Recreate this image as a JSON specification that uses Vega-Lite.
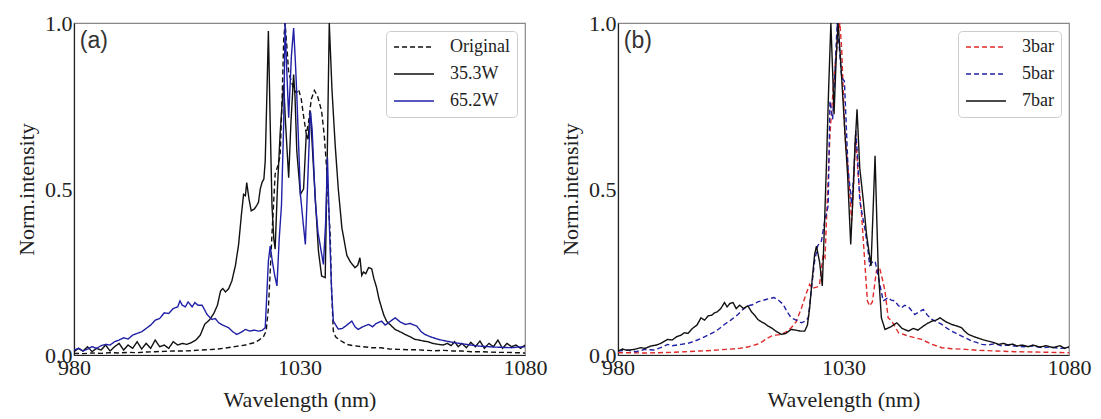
{
"$schema": "https://vega.github.io/schema/vega-lite/v6.json",
"padding": {"left": 14, "top": 11, "right": 5, "bottom": 5},
"spacing": 10,
"datasets": {
"a": [
{"s":"Original","x":980,"y":0.005},{"s":"Original","x":982,"y":0.004},{"s":"Original","x":984,"y":0.006},{"s":"Original","x":986,"y":0.005},{"s":"Original","x":988,"y":0.007},{"s":"Original","x":990,"y":0.006},{"s":"Original","x":992,"y":0.008},{"s":"Original","x":994,"y":0.007},{"s":"Original","x":996,"y":0.009},{"s":"Original","x":998,"y":0.01},{"s":"Original","x":1000,"y":0.011},{"s":"Original","x":1002,"y":0.012},{"s":"Original","x":1004,"y":0.012},{"s":"Original","x":1006,"y":0.013},{"s":"Original","x":1008,"y":0.015},{"s":"Original","x":1010,"y":0.016},{"s":"Original","x":1012,"y":0.018},{"s":"Original","x":1014,"y":0.022},{"s":"Original","x":1016,"y":0.026},{"s":"Original","x":1018,"y":0.03},{"s":"Original","x":1019,"y":0.034},{"s":"Original","x":1020,"y":0.037},{"s":"Original","x":1021,"y":0.045},{"s":"Original","x":1022,"y":0.055},{"s":"Original","x":1022.6,"y":0.072},{"s":"Original","x":1023.1,"y":0.14},{"s":"Original","x":1023.5,"y":0.25},{"s":"Original","x":1023.9,"y":0.364},{"s":"Original","x":1024.6,"y":0.545},{"s":"Original","x":1025.2,"y":0.57},{"s":"Original","x":1025.7,"y":0.6},{"s":"Original","x":1026.1,"y":0.75},{"s":"Original","x":1026.5,"y":0.95},{"s":"Original","x":1026.8,"y":1.0},{"s":"Original","x":1027.2,"y":0.93},{"s":"Original","x":1027.6,"y":0.85},{"s":"Original","x":1028.3,"y":0.82},{"s":"Original","x":1028.7,"y":0.8},{"s":"Original","x":1029.3,"y":0.79},{"s":"Original","x":1029.8,"y":0.8},{"s":"Original","x":1030.4,"y":0.77},{"s":"Original","x":1030.9,"y":0.72},{"s":"Original","x":1031.5,"y":0.665},{"s":"Original","x":1032,"y":0.7},{"s":"Original","x":1032.6,"y":0.77},{"s":"Original","x":1033.3,"y":0.797},{"s":"Original","x":1034,"y":0.78},{"s":"Original","x":1034.9,"y":0.735},{"s":"Original","x":1035.5,"y":0.66},{"s":"Original","x":1036,"y":0.564},{"s":"Original","x":1036.4,"y":0.46},{"s":"Original","x":1036.8,"y":0.364},{"s":"Original","x":1037.1,"y":0.2},{"s":"Original","x":1037.5,"y":0.072},{"s":"Original","x":1038,"y":0.055},{"s":"Original","x":1038.6,"y":0.048},{"s":"Original","x":1039.5,"y":0.04},{"s":"Original","x":1040.5,"y":0.032},{"s":"Original","x":1042,"y":0.028},{"s":"Original","x":1044,"y":0.025},{"s":"Original","x":1046,"y":0.022},{"s":"Original","x":1048,"y":0.022},{"s":"Original","x":1050,"y":0.018},{"s":"Original","x":1052,"y":0.017},{"s":"Original","x":1054,"y":0.016},{"s":"Original","x":1056,"y":0.016},{"s":"Original","x":1058,"y":0.014},{"s":"Original","x":1060,"y":0.013},{"s":"Original","x":1062,"y":0.014},{"s":"Original","x":1064,"y":0.012},{"s":"Original","x":1066,"y":0.012},{"s":"Original","x":1068,"y":0.01},{"s":"Original","x":1070,"y":0.01},{"s":"Original","x":1072,"y":0.009},{"s":"Original","x":1074,"y":0.008},{"s":"Original","x":1076,"y":0.008},{"s":"Original","x":1078,"y":0.007},{"s":"Original","x":1080,"y":0.006},
{"s":"35.3W","x":980,"y":0.01},{"s":"35.3W","x":981,"y":0.02},{"s":"35.3W","x":982,"y":0.012},{"s":"35.3W","x":983,"y":0.025},{"s":"35.3W","x":984,"y":0.01},{"s":"35.3W","x":985,"y":0.02},{"s":"35.3W","x":986,"y":0.015},{"s":"35.3W","x":987,"y":0.03},{"s":"35.3W","x":988,"y":0.012},{"s":"35.3W","x":989,"y":0.025},{"s":"35.3W","x":990,"y":0.035},{"s":"35.3W","x":991,"y":0.015},{"s":"35.3W","x":992,"y":0.03},{"s":"35.3W","x":993,"y":0.02},{"s":"35.3W","x":994,"y":0.04},{"s":"35.3W","x":995,"y":0.018},{"s":"35.3W","x":996,"y":0.035},{"s":"35.3W","x":997,"y":0.02},{"s":"35.3W","x":998,"y":0.045},{"s":"35.3W","x":999,"y":0.025},{"s":"35.3W","x":1000,"y":0.03},{"s":"35.3W","x":1001,"y":0.02},{"s":"35.3W","x":1002,"y":0.04},{"s":"35.3W","x":1003,"y":0.03},{"s":"35.3W","x":1004,"y":0.035},{"s":"35.3W","x":1005,"y":0.032},{"s":"35.3W","x":1006,"y":0.037},{"s":"35.3W","x":1007,"y":0.045},{"s":"35.3W","x":1008,"y":0.06},{"s":"35.3W","x":1009,"y":0.093},{"s":"35.3W","x":1010,"y":0.105},{"s":"35.3W","x":1011,"y":0.125},{"s":"35.3W","x":1011.8,"y":0.15},{"s":"35.3W","x":1012.5,"y":0.193},{"s":"35.3W","x":1013,"y":0.2},{"s":"35.3W","x":1013.6,"y":0.19},{"s":"35.3W","x":1014.3,"y":0.2},{"s":"35.3W","x":1015,"y":0.223},{"s":"35.3W","x":1015.8,"y":0.27},{"s":"35.3W","x":1016.5,"y":0.333},{"s":"35.3W","x":1017.1,"y":0.42},{"s":"35.3W","x":1017.6,"y":0.484},{"s":"35.3W","x":1018,"y":0.48},{"s":"35.3W","x":1018.3,"y":0.519},{"s":"35.3W","x":1018.8,"y":0.47},{"s":"35.3W","x":1019.3,"y":0.434},{"s":"35.3W","x":1020,"y":0.44},{"s":"35.3W","x":1020.5,"y":0.45},{"s":"35.3W","x":1020.9,"y":0.46},{"s":"35.3W","x":1021.3,"y":0.5},{"s":"35.3W","x":1021.7,"y":0.52},{"s":"35.3W","x":1022.1,"y":0.53},{"s":"35.3W","x":1022.4,"y":0.584},{"s":"35.3W","x":1022.8,"y":0.8},{"s":"35.3W","x":1023.1,"y":0.976},{"s":"35.3W","x":1023.5,"y":0.7},{"s":"35.3W","x":1023.9,"y":0.45},{"s":"35.3W","x":1024.3,"y":0.35},{"s":"35.3W","x":1024.6,"y":0.319},{"s":"35.3W","x":1025.1,"y":0.5},{"s":"35.3W","x":1025.7,"y":0.665},{"s":"35.3W","x":1026.1,"y":0.75},{"s":"35.3W","x":1026.5,"y":0.815},{"s":"35.3W","x":1026.9,"y":0.7},{"s":"35.3W","x":1027.6,"y":0.534},{"s":"35.3W","x":1028.1,"y":0.7},{"s":"35.3W","x":1028.7,"y":0.845},{"s":"35.3W","x":1029,"y":0.78},{"s":"35.3W","x":1029.4,"y":0.614},{"s":"35.3W","x":1030.2,"y":0.484},{"s":"35.3W","x":1030.9,"y":0.5},{"s":"35.3W","x":1031.5,"y":0.665},{"s":"35.3W","x":1031.9,"y":0.65},{"s":"35.3W","x":1032.4,"y":0.735},{"s":"35.3W","x":1033.1,"y":0.564},{"s":"35.3W","x":1033.6,"y":0.45},{"s":"35.3W","x":1034.2,"y":0.313},{"s":"35.3W","x":1034.9,"y":0.238},{"s":"35.3W","x":1035.7,"y":0.233},{"s":"35.3W","x":1036.1,"y":0.55},{"s":"35.3W","x":1036.6,"y":1.0},{"s":"35.3W","x":1037.2,"y":0.8},{"s":"35.3W","x":1037.9,"y":0.635},{"s":"35.3W","x":1038.6,"y":0.5},{"s":"35.3W","x":1039.4,"y":0.383},{"s":"35.3W","x":1040.5,"y":0.3},{"s":"35.3W","x":1041.3,"y":0.28},{"s":"35.3W","x":1042.3,"y":0.263},{"s":"35.3W","x":1042.9,"y":0.27},{"s":"35.3W","x":1043.4,"y":0.293},{"s":"35.3W","x":1043.8,"y":0.24},{"s":"35.3W","x":1044.2,"y":0.25},{"s":"35.3W","x":1044.7,"y":0.245},{"s":"35.3W","x":1045.3,"y":0.263},{"s":"35.3W","x":1046,"y":0.26},{"s":"35.3W","x":1046.5,"y":0.23},{"s":"35.3W","x":1047.1,"y":0.203},{"s":"35.3W","x":1047.6,"y":0.17},{"s":"35.3W","x":1048.2,"y":0.142},{"s":"35.3W","x":1048.7,"y":0.12},{"s":"35.3W","x":1049.3,"y":0.102},{"s":"35.3W","x":1050.2,"y":0.09},{"s":"35.3W","x":1051.2,"y":0.077},{"s":"35.3W","x":1052.3,"y":0.07},{"s":"35.3W","x":1053.4,"y":0.062},{"s":"35.3W","x":1054.5,"y":0.055},{"s":"35.3W","x":1055.6,"y":0.047},{"s":"35.3W","x":1056.5,"y":0.045},{"s":"35.3W","x":1057.5,"y":0.042},{"s":"35.3W","x":1058.5,"y":0.04},{"s":"35.3W","x":1059.5,"y":0.035},{"s":"35.3W","x":1060.8,"y":0.032},{"s":"35.3W","x":1061.8,"y":0.03},{"s":"35.3W","x":1062.8,"y":0.035},{"s":"35.3W","x":1063.6,"y":0.028},{"s":"35.3W","x":1064.4,"y":0.04},{"s":"35.3W","x":1065.2,"y":0.025},{"s":"35.3W","x":1066,"y":0.035},{"s":"35.3W","x":1067,"y":0.022},{"s":"35.3W","x":1068,"y":0.038},{"s":"35.3W","x":1069,"y":0.025},{"s":"35.3W","x":1070,"y":0.042},{"s":"35.3W","x":1071,"y":0.02},{"s":"35.3W","x":1072,"y":0.035},{"s":"35.3W","x":1073,"y":0.025},{"s":"35.3W","x":1074,"y":0.045},{"s":"35.3W","x":1075,"y":0.02},{"s":"35.3W","x":1076,"y":0.035},{"s":"35.3W","x":1077,"y":0.025},{"s":"35.3W","x":1078,"y":0.03},{"s":"35.3W","x":1079,"y":0.02},{"s":"35.3W","x":1080,"y":0.03},
{"s":"65.2W","x":980,"y":0.015},{"s":"65.2W","x":981,"y":0.02},{"s":"65.2W","x":982,"y":0.012},{"s":"65.2W","x":983,"y":0.018},{"s":"65.2W","x":984,"y":0.025},{"s":"65.2W","x":985,"y":0.02},{"s":"65.2W","x":986,"y":0.028},{"s":"65.2W","x":987,"y":0.032},{"s":"65.2W","x":988,"y":0.03},{"s":"65.2W","x":989,"y":0.04},{"s":"65.2W","x":990,"y":0.045},{"s":"65.2W","x":991,"y":0.052},{"s":"65.2W","x":992,"y":0.048},{"s":"65.2W","x":993,"y":0.06},{"s":"65.2W","x":994,"y":0.065},{"s":"65.2W","x":995,"y":0.07},{"s":"65.2W","x":996,"y":0.08},{"s":"65.2W","x":997,"y":0.09},{"s":"65.2W","x":998,"y":0.105},{"s":"65.2W","x":999,"y":0.11},{"s":"65.2W","x":1000,"y":0.127},{"s":"65.2W","x":1001,"y":0.125},{"s":"65.2W","x":1002,"y":0.14},{"s":"65.2W","x":1003,"y":0.145},{"s":"65.2W","x":1003.5,"y":0.163},{"s":"65.2W","x":1004,"y":0.15},{"s":"65.2W","x":1004.7,"y":0.145},{"s":"65.2W","x":1005.3,"y":0.16},{"s":"65.2W","x":1006.2,"y":0.145},{"s":"65.2W","x":1006.8,"y":0.158},{"s":"65.2W","x":1007.5,"y":0.15},{"s":"65.2W","x":1008.4,"y":0.15},{"s":"65.2W","x":1009,"y":0.135},{"s":"65.2W","x":1009.5,"y":0.122},{"s":"65.2W","x":1010.6,"y":0.107},{"s":"65.2W","x":1011.3,"y":0.11},{"s":"65.2W","x":1012.1,"y":0.097},{"s":"65.2W","x":1013,"y":0.09},{"s":"65.2W","x":1014.3,"y":0.082},{"s":"65.2W","x":1015.2,"y":0.07},{"s":"65.2W","x":1016.1,"y":0.062},{"s":"65.2W","x":1017,"y":0.068},{"s":"65.2W","x":1018,"y":0.077},{"s":"65.2W","x":1019,"y":0.072},{"s":"65.2W","x":1020,"y":0.075},{"s":"65.2W","x":1020.9,"y":0.072},{"s":"65.2W","x":1021.7,"y":0.074},{"s":"65.2W","x":1022.4,"y":0.082},{"s":"65.2W","x":1023.1,"y":0.283},{"s":"65.2W","x":1023.5,"y":0.328},{"s":"65.2W","x":1024,"y":0.28},{"s":"65.2W","x":1024.5,"y":0.24},{"s":"65.2W","x":1025,"y":0.208},{"s":"65.2W","x":1025.5,"y":0.35},{"s":"65.2W","x":1026,"y":0.45},{"s":"65.2W","x":1026.5,"y":0.7},{"s":"65.2W","x":1026.8,"y":1.0},{"s":"65.2W","x":1027.2,"y":0.85},{"s":"65.2W","x":1027.6,"y":0.715},{"s":"65.2W","x":1028.2,"y":0.9},{"s":"65.2W","x":1028.7,"y":0.985},{"s":"65.2W","x":1029.1,"y":0.88},{"s":"65.2W","x":1029.4,"y":0.785},{"s":"65.2W","x":1030.2,"y":0.484},{"s":"65.2W","x":1030.8,"y":0.4},{"s":"65.2W","x":1031.3,"y":0.333},{"s":"65.2W","x":1031.9,"y":0.55},{"s":"65.2W","x":1032.4,"y":0.735},{"s":"65.2W","x":1032.8,"y":0.68},{"s":"65.2W","x":1033.5,"y":0.464},{"s":"65.2W","x":1034.1,"y":0.37},{"s":"65.2W","x":1035.3,"y":0.273},{"s":"65.2W","x":1035.8,"y":0.4},{"s":"65.2W","x":1036.2,"y":0.594},{"s":"65.2W","x":1036.6,"y":0.4},{"s":"65.2W","x":1037.1,"y":0.2},{"s":"65.2W","x":1037.5,"y":0.102},{"s":"65.2W","x":1038.6,"y":0.078},{"s":"65.2W","x":1039.5,"y":0.08},{"s":"65.2W","x":1040.5,"y":0.09},{"s":"65.2W","x":1041.6,"y":0.102},{"s":"65.2W","x":1042.3,"y":0.085},{"s":"65.2W","x":1043,"y":0.077},{"s":"65.2W","x":1044,"y":0.085},{"s":"65.2W","x":1045.3,"y":0.092},{"s":"65.2W","x":1046.2,"y":0.085},{"s":"65.2W","x":1047,"y":0.095},{"s":"65.2W","x":1048.2,"y":0.102},{"s":"65.2W","x":1049,"y":0.09},{"s":"65.2W","x":1050,"y":0.1},{"s":"65.2W","x":1051.2,"y":0.112},{"s":"65.2W","x":1052.3,"y":0.1},{"s":"65.2W","x":1053.4,"y":0.092},{"s":"65.2W","x":1054.5,"y":0.095},{"s":"65.2W","x":1056,"y":0.087},{"s":"65.2W","x":1057,"y":0.07},{"s":"65.2W","x":1057.8,"y":0.062},{"s":"65.2W","x":1059,"y":0.055},{"s":"65.2W","x":1060.8,"y":0.047},{"s":"65.2W","x":1062.5,"y":0.042},{"s":"65.2W","x":1064.4,"y":0.037},{"s":"65.2W","x":1066,"y":0.034},{"s":"65.2W","x":1068,"y":0.03},{"s":"65.2W","x":1069.6,"y":0.027},{"s":"65.2W","x":1071,"y":0.026},{"s":"65.2W","x":1073,"y":0.024},{"s":"65.2W","x":1075,"y":0.023},{"s":"65.2W","x":1077,"y":0.022},{"s":"65.2W","x":1078.5,"y":0.024},{"s":"65.2W","x":1080,"y":0.025}
],
"b": [
{"s":"3bar","x":980,"y":0.007},{"s":"3bar","x":983,"y":0.007},{"s":"3bar","x":986,"y":0.006},{"s":"3bar","x":989,"y":0.007},{"s":"3bar","x":992,"y":0.008},{"s":"3bar","x":995,"y":0.01},{"s":"3bar","x":998,"y":0.012},{"s":"3bar","x":1001,"y":0.014},{"s":"3bar","x":1004,"y":0.017},{"s":"3bar","x":1007,"y":0.02},{"s":"3bar","x":1009,"y":0.025},{"s":"3bar","x":1011,"y":0.033},{"s":"3bar","x":1012,"y":0.04},{"s":"3bar","x":1013,"y":0.05},{"s":"3bar","x":1014,"y":0.057},{"s":"3bar","x":1015,"y":0.06},{"s":"3bar","x":1016.2,"y":0.062},{"s":"3bar","x":1017.3,"y":0.07},{"s":"3bar","x":1018.4,"y":0.082},{"s":"3bar","x":1019.5,"y":0.1},{"s":"3bar","x":1020.7,"y":0.142},{"s":"3bar","x":1021.6,"y":0.18},{"s":"3bar","x":1022.5,"y":0.213},{"s":"3bar","x":1023.1,"y":0.2},{"s":"3bar","x":1023.6,"y":0.203},{"s":"3bar","x":1024.2,"y":0.205},{"s":"3bar","x":1024.7,"y":0.213},{"s":"3bar","x":1025.1,"y":0.26},{"s":"3bar","x":1025.5,"y":0.303},{"s":"3bar","x":1025.9,"y":0.293},{"s":"3bar","x":1026.5,"y":0.5},{"s":"3bar","x":1027,"y":0.665},{"s":"3bar","x":1027.6,"y":0.78},{"s":"3bar","x":1028.1,"y":0.865},{"s":"3bar","x":1028.7,"y":0.95},{"s":"3bar","x":1029.2,"y":1.0},{"s":"3bar","x":1029.6,"y":0.92},{"s":"3bar","x":1030.3,"y":0.665},{"s":"3bar","x":1031,"y":0.564},{"s":"3bar","x":1031.8,"y":0.404},{"s":"3bar","x":1032.2,"y":0.5},{"s":"3bar","x":1032.7,"y":0.665},{"s":"3bar","x":1033.2,"y":0.55},{"s":"3bar","x":1034,"y":0.424},{"s":"3bar","x":1034.7,"y":0.283},{"s":"3bar","x":1035.3,"y":0.163},{"s":"3bar","x":1035.8,"y":0.148},{"s":"3bar","x":1036.4,"y":0.16},{"s":"3bar","x":1037.3,"y":0.253},{"s":"3bar","x":1038,"y":0.263},{"s":"3bar","x":1038.6,"y":0.23},{"s":"3bar","x":1039.2,"y":0.193},{"s":"3bar","x":1039.9,"y":0.112},{"s":"3bar","x":1040.7,"y":0.102},{"s":"3bar","x":1042.2,"y":0.067},{"s":"3bar","x":1044.4,"y":0.057},{"s":"3bar","x":1047.3,"y":0.047},{"s":"3bar","x":1049.6,"y":0.032},{"s":"3bar","x":1051.8,"y":0.022},{"s":"3bar","x":1054,"y":0.019},{"s":"3bar","x":1057,"y":0.017},{"s":"3bar","x":1060,"y":0.014},{"s":"3bar","x":1064,"y":0.012},{"s":"3bar","x":1068,"y":0.01},{"s":"3bar","x":1072,"y":0.009},{"s":"3bar","x":1076,"y":0.008},{"s":"3bar","x":1080,"y":0.007},
{"s":"5bar","x":980,"y":0.012},{"s":"5bar","x":982,"y":0.015},{"s":"5bar","x":984,"y":0.01},{"s":"5bar","x":986,"y":0.017},{"s":"5bar","x":988,"y":0.015},{"s":"5bar","x":990,"y":0.025},{"s":"5bar","x":991,"y":0.032},{"s":"5bar","x":992,"y":0.028},{"s":"5bar","x":994,"y":0.032},{"s":"5bar","x":995.5,"y":0.035},{"s":"5bar","x":997,"y":0.042},{"s":"5bar","x":998.5,"y":0.05},{"s":"5bar","x":1000,"y":0.06},{"s":"5bar","x":1001.5,"y":0.07},{"s":"5bar","x":1002.5,"y":0.08},{"s":"5bar","x":1003.6,"y":0.092},{"s":"5bar","x":1005,"y":0.105},{"s":"5bar","x":1006.6,"y":0.122},{"s":"5bar","x":1007.5,"y":0.135},{"s":"5bar","x":1008.8,"y":0.148},{"s":"5bar","x":1010,"y":0.152},{"s":"5bar","x":1011,"y":0.16},{"s":"5bar","x":1011.8,"y":0.163},{"s":"5bar","x":1013,"y":0.168},{"s":"5bar","x":1014.6,"y":0.173},{"s":"5bar","x":1015.6,"y":0.165},{"s":"5bar","x":1016.6,"y":0.153},{"s":"5bar","x":1017.5,"y":0.13},{"s":"5bar","x":1018.4,"y":0.112},{"s":"5bar","x":1019.5,"y":0.105},{"s":"5bar","x":1020.7,"y":0.097},{"s":"5bar","x":1021.5,"y":0.102},{"s":"5bar","x":1022.2,"y":0.112},{"s":"5bar","x":1022.9,"y":0.2},{"s":"5bar","x":1023.6,"y":0.283},{"s":"5bar","x":1024.3,"y":0.33},{"s":"5bar","x":1025.1,"y":0.343},{"s":"5bar","x":1025.8,"y":0.4},{"s":"5bar","x":1026.6,"y":0.45},{"s":"5bar","x":1027,"y":0.765},{"s":"5bar","x":1027.6,"y":0.71},{"s":"5bar","x":1028.1,"y":0.85},{"s":"5bar","x":1028.6,"y":1.0},{"s":"5bar","x":1029.1,"y":0.92},{"s":"5bar","x":1029.6,"y":0.835},{"s":"5bar","x":1030.2,"y":0.825},{"s":"5bar","x":1031,"y":0.564},{"s":"5bar","x":1031.8,"y":0.454},{"s":"5bar","x":1032.3,"y":0.55},{"s":"5bar","x":1032.7,"y":0.675},{"s":"5bar","x":1033.1,"y":0.6},{"s":"5bar","x":1033.6,"y":0.464},{"s":"5bar","x":1034.7,"y":0.383},{"s":"5bar","x":1035.3,"y":0.33},{"s":"5bar","x":1035.8,"y":0.27},{"s":"5bar","x":1036.4,"y":0.28},{"s":"5bar","x":1037,"y":0.283},{"s":"5bar","x":1037.8,"y":0.23},{"s":"5bar","x":1038.8,"y":0.163},{"s":"5bar","x":1039.9,"y":0.173},{"s":"5bar","x":1040.6,"y":0.165},{"s":"5bar","x":1041.4,"y":0.163},{"s":"5bar","x":1042.1,"y":0.15},{"s":"5bar","x":1042.8,"y":0.142},{"s":"5bar","x":1043.6,"y":0.15},{"s":"5bar","x":1044.4,"y":0.145},{"s":"5bar","x":1045.8,"y":0.122},{"s":"5bar","x":1046.7,"y":0.13},{"s":"5bar","x":1047.7,"y":0.137},{"s":"5bar","x":1048.6,"y":0.12},{"s":"5bar","x":1049.6,"y":0.107},{"s":"5bar","x":1050.7,"y":0.1},{"s":"5bar","x":1051.8,"y":0.092},{"s":"5bar","x":1053,"y":0.08},{"s":"5bar","x":1054,"y":0.072},{"s":"5bar","x":1055,"y":0.065},{"s":"5bar","x":1056.2,"y":0.057},{"s":"5bar","x":1057.3,"y":0.05},{"s":"5bar","x":1058.4,"y":0.042},{"s":"5bar","x":1059.5,"y":0.038},{"s":"5bar","x":1060.7,"y":0.032},{"s":"5bar","x":1062,"y":0.03},{"s":"5bar","x":1063.5,"y":0.034},{"s":"5bar","x":1065,"y":0.028},{"s":"5bar","x":1066.5,"y":0.03},{"s":"5bar","x":1068,"y":0.027},{"s":"5bar","x":1070,"y":0.025},{"s":"5bar","x":1072,"y":0.027},{"s":"5bar","x":1074,"y":0.022},{"s":"5bar","x":1076,"y":0.024},{"s":"5bar","x":1078,"y":0.02},{"s":"5bar","x":1080,"y":0.022},
{"s":"7bar","x":980,"y":0.012},{"s":"7bar","x":981,"y":0.018},{"s":"7bar","x":982,"y":0.014},{"s":"7bar","x":983.6,"y":0.017},{"s":"7bar","x":985,"y":0.022},{"s":"7bar","x":986,"y":0.02},{"s":"7bar","x":987.3,"y":0.027},{"s":"7bar","x":988.5,"y":0.03},{"s":"7bar","x":989.5,"y":0.035},{"s":"7bar","x":991,"y":0.047},{"s":"7bar","x":992,"y":0.045},{"s":"7bar","x":993,"y":0.055},{"s":"7bar","x":994,"y":0.06},{"s":"7bar","x":994.7,"y":0.067},{"s":"7bar","x":995.5,"y":0.065},{"s":"7bar","x":996.5,"y":0.08},{"s":"7bar","x":997.5,"y":0.09},{"s":"7bar","x":998.4,"y":0.112},{"s":"7bar","x":999.2,"y":0.105},{"s":"7bar","x":1000,"y":0.118},{"s":"7bar","x":1000.8,"y":0.12},{"s":"7bar","x":1001.4,"y":0.127},{"s":"7bar","x":1002,"y":0.13},{"s":"7bar","x":1002.8,"y":0.14},{"s":"7bar","x":1003.6,"y":0.158},{"s":"7bar","x":1004.2,"y":0.145},{"s":"7bar","x":1004.8,"y":0.155},{"s":"7bar","x":1005.5,"y":0.158},{"s":"7bar","x":1006.2,"y":0.14},{"s":"7bar","x":1007,"y":0.15},{"s":"7bar","x":1007.8,"y":0.14},{"s":"7bar","x":1008.8,"y":0.148},{"s":"7bar","x":1009.6,"y":0.13},{"s":"7bar","x":1010.3,"y":0.12},{"s":"7bar","x":1011,"y":0.107},{"s":"7bar","x":1011.8,"y":0.1},{"s":"7bar","x":1012.5,"y":0.095},{"s":"7bar","x":1013.3,"y":0.087},{"s":"7bar","x":1014.2,"y":0.08},{"s":"7bar","x":1015.2,"y":0.07},{"s":"7bar","x":1016.2,"y":0.062},{"s":"7bar","x":1017.2,"y":0.065},{"s":"7bar","x":1018.4,"y":0.077},{"s":"7bar","x":1019.4,"y":0.075},{"s":"7bar","x":1020.4,"y":0.072},{"s":"7bar","x":1021.4,"y":0.072},{"s":"7bar","x":1022,"y":0.09},{"s":"7bar","x":1022.5,"y":0.142},{"s":"7bar","x":1023,"y":0.22},{"s":"7bar","x":1023.6,"y":0.303},{"s":"7bar","x":1024,"y":0.328},{"s":"7bar","x":1024.7,"y":0.28},{"s":"7bar","x":1025.3,"y":0.208},{"s":"7bar","x":1025.8,"y":0.4},{"s":"7bar","x":1026.2,"y":0.564},{"s":"7bar","x":1026.7,"y":0.8},{"s":"7bar","x":1027.2,"y":1.0},{"s":"7bar","x":1027.6,"y":0.85},{"s":"7bar","x":1027.9,"y":0.725},{"s":"7bar","x":1028.4,"y":0.9},{"s":"7bar","x":1028.8,"y":1.0},{"s":"7bar","x":1029.3,"y":0.9},{"s":"7bar","x":1029.9,"y":0.765},{"s":"7bar","x":1030.4,"y":0.65},{"s":"7bar","x":1030.9,"y":0.544},{"s":"7bar","x":1031.6,"y":0.333},{"s":"7bar","x":1032.1,"y":0.48},{"s":"7bar","x":1032.5,"y":0.614},{"s":"7bar","x":1033,"y":0.74},{"s":"7bar","x":1033.6,"y":0.564},{"s":"7bar","x":1034.4,"y":0.464},{"s":"7bar","x":1035.1,"y":0.364},{"s":"7bar","x":1036.1,"y":0.268},{"s":"7bar","x":1036.6,"y":0.45},{"s":"7bar","x":1037,"y":0.6},{"s":"7bar","x":1037.4,"y":0.4},{"s":"7bar","x":1037.7,"y":0.26},{"s":"7bar","x":1038.4,"y":0.112},{"s":"7bar","x":1039.2,"y":0.077},{"s":"7bar","x":1040.5,"y":0.085},{"s":"7bar","x":1041.8,"y":0.097},{"s":"7bar","x":1043,"y":0.08},{"s":"7bar","x":1044.4,"y":0.072},{"s":"7bar","x":1045.5,"y":0.08},{"s":"7bar","x":1046.5,"y":0.075},{"s":"7bar","x":1047.7,"y":0.087},{"s":"7bar","x":1048.6,"y":0.095},{"s":"7bar","x":1049.6,"y":0.102},{"s":"7bar","x":1050.5,"y":0.105},{"s":"7bar","x":1051.4,"y":0.112},{"s":"7bar","x":1052.7,"y":0.1},{"s":"7bar","x":1054,"y":0.092},{"s":"7bar","x":1055,"y":0.088},{"s":"7bar","x":1056.2,"y":0.082},{"s":"7bar","x":1057,"y":0.07},{"s":"7bar","x":1057.7,"y":0.062},{"s":"7bar","x":1059,"y":0.055},{"s":"7bar","x":1060.7,"y":0.047},{"s":"7bar","x":1062,"y":0.042},{"s":"7bar","x":1063.2,"y":0.038},{"s":"7bar","x":1064.4,"y":0.032},{"s":"7bar","x":1065.5,"y":0.035},{"s":"7bar","x":1066.5,"y":0.03},{"s":"7bar","x":1067.5,"y":0.033},{"s":"7bar","x":1068.5,"y":0.027},{"s":"7bar","x":1069.6,"y":0.03},{"s":"7bar","x":1071,"y":0.025},{"s":"7bar","x":1072,"y":0.03},{"s":"7bar","x":1073.5,"y":0.024},{"s":"7bar","x":1075,"y":0.028},{"s":"7bar","x":1076.5,"y":0.022},{"s":"7bar","x":1078,"y":0.028},{"s":"7bar","x":1079,"y":0.02},{"s":"7bar","x":1080,"y":0.025}
]
},
"hconcat": [
{
"width": 451, "height": 332,
"layer": [
{"data": {"name": "a"},
 "mark": {"type": "line", "strokeWidth": 1.4, "clip": true},
 "encoding": {
  "x": {"field": "x", "type": "quantitative", "scale": {"domain": [980, 1080], "nice": false, "zero": false}, "axis": {"values": [980, 1030, 1080], "format": "d", "title": "Wavelength (nm)", "titleFont": "Liberation Serif", "labelFont": "Liberation Serif", "titlePadding": 11}},
  "y": {"field": "y", "type": "quantitative", "scale": {"domain": [0, 1], "nice": false}, "axis": {"values": [0, 0.5, 1], "format": ".1f", "title": "Norm.intensity", "titleFont": "Liberation Serif", "labelFont": "Liberation Serif", "titlePadding": 6}},
  "color": {"field": "s", "type": "nominal", "scale": {"domain": ["Original", "35.3W", "65.2W"], "range": ["#111111", "#111111", "#2020a6"]}, "legend": {"title": null}},
  "strokeDash": {"field": "s", "type": "nominal", "scale": {"domain": ["Original", "35.3W", "65.2W"], "range": [[5, 3], [1, 0], [1, 0]]}, "legend": {"title": null}}
 }},
{"data": {"values": [{"t": "(a)"}]},
 "mark": {"type": "text", "font": "Liberation Sans", "fontSize": 23, "align": "left", "baseline": "middle", "color": "#333333"},
 "encoding": {"x": {"datum": 981.3, "type": "quantitative"}, "y": {"datum": 0.945, "type": "quantitative"}, "text": {"field": "t"}}}
]
},
{
"width": 451, "height": 332,
"layer": [
{"data": {"name": "b"},
 "mark": {"type": "line", "strokeWidth": 1.4, "clip": true},
 "encoding": {
  "x": {"field": "x", "type": "quantitative", "scale": {"domain": [980, 1080], "nice": false, "zero": false}, "axis": {"values": [980, 1030, 1080], "format": "d", "title": "Wavelength (nm)", "titleFont": "Liberation Serif", "labelFont": "Liberation Serif", "titlePadding": 11}},
  "y": {"field": "y", "type": "quantitative", "scale": {"domain": [0, 1], "nice": false}, "axis": {"values": [0, 0.5, 1], "format": ".1f", "title": "Norm.intensity", "titleFont": "Liberation Serif", "labelFont": "Liberation Serif", "titlePadding": 6}},
  "color": {"field": "s", "type": "nominal", "scale": {"domain": ["3bar", "5bar", "7bar"], "range": ["#e02a2a", "#2020a6", "#111111"]}, "legend": {"title": null}},
  "strokeDash": {"field": "s", "type": "nominal", "scale": {"domain": ["3bar", "5bar", "7bar"], "range": [[5, 3], [5, 3], [1, 0]]}, "legend": {"title": null}}
 }},
{"data": {"values": [{"t": "(b)"}]},
 "mark": {"type": "text", "font": "Liberation Sans", "fontSize": 23, "align": "left", "baseline": "middle", "color": "#333333"},
 "encoding": {"x": {"datum": 981.3, "type": "quantitative"}, "y": {"datum": 0.945, "type": "quantitative"}, "text": {"field": "t"}}}
]
}
],
"resolve": {"scale": {"color": "independent", "strokeDash": "independent", "x": "independent", "y": "independent"}, "legend": {"color": "independent", "strokeDash": "independent"}},
"config": {
 "font": "Liberation Serif",
 "view": {"stroke": "#888888", "strokeWidth": 1.2},
 "axis": {"grid": false, "ticks": false, "labelFlush": false, "labelFont": "Liberation Serif", "titleFont": "Liberation Serif", "labelFontSize": 22, "titleFontSize": 22, "labelColor": "#222222", "titleColor": "#222222", "titleFontWeight": "normal", "domainColor": "#222222", "domainWidth": 1.2, "labelPadding": 2, "titlePadding": 2},
 "legend": {"orient": "top-right", "offset": 8, "strokeColor": "#cccccc", "cornerRadius": 4, "padding": 7, "fillColor": "white", "symbolType": "M-1,0H4", "symbolSize": 256, "symbolStrokeWidth": 1.5, "labelFont": "Liberation Serif", "labelFontSize": 18, "labelColor": "#222222", "labelOffset": 39, "rowPadding": 9}
}
}
